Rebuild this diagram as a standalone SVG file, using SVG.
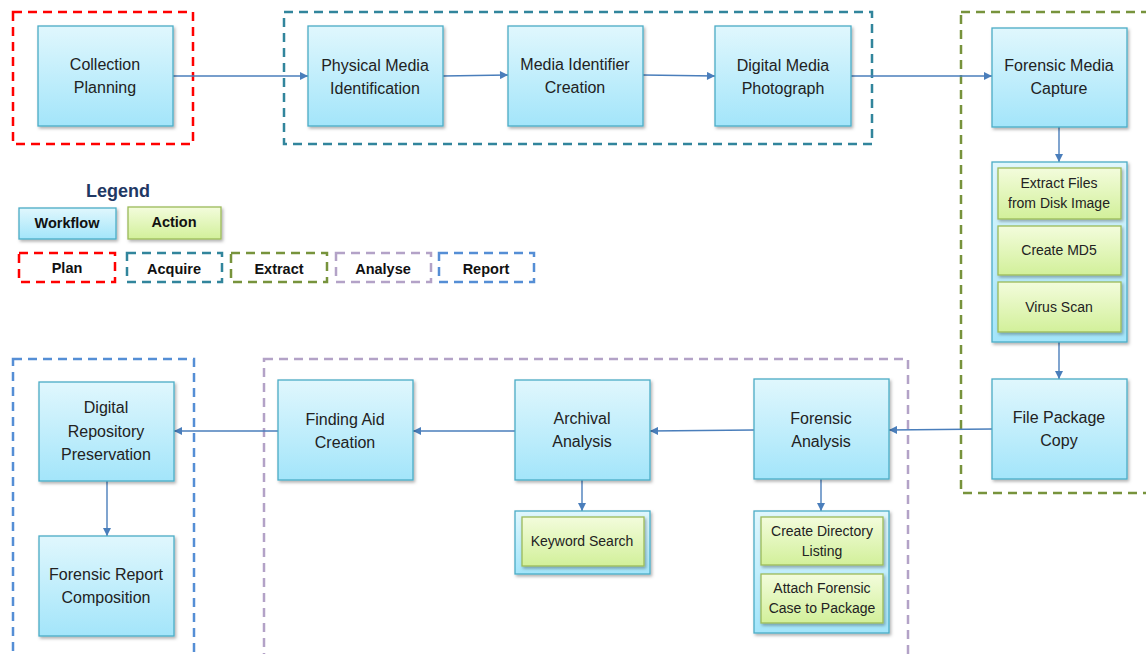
<svg xmlns="http://www.w3.org/2000/svg" width="1146" height="654" viewBox="0 0 1146 654">
<defs>
<linearGradient id="gb" x1="0" y1="0" x2="0" y2="1"><stop offset="0" stop-color="#E0F7FD"/><stop offset="1" stop-color="#A3E5FA"/></linearGradient>
<linearGradient id="gg" x1="0" y1="0" x2="0" y2="1"><stop offset="0" stop-color="#F3FCDC"/><stop offset="1" stop-color="#D2F09A"/></linearGradient>
<filter id="sh" x="-10%" y="-10%" width="130%" height="130%"><feDropShadow dx="1.5" dy="2" stdDeviation="1.5" flood-color="#000" flood-opacity="0.3"/></filter>
<marker id="ah" viewBox="0 0 10 10" refX="10" refY="5" markerWidth="9" markerHeight="8" markerUnits="userSpaceOnUse" orient="auto"><path d="M0,0 L10,5 L0,10 z" fill="#4A7EBB"/></marker>
</defs>
<style>
.wf{fill:url(#gb);stroke:#4BACC6;stroke-width:1.3;filter:url(#sh)}
.ac{fill:url(#gg);stroke:#9BBB59;stroke-width:1.3;filter:url(#sh)}
.t{font-family:"Liberation Sans",Arial,sans-serif;font-size:16px;fill:#222;text-anchor:middle}
.ts{font-family:"Liberation Sans",Arial,sans-serif;font-size:14px;fill:#222;text-anchor:middle}
.tb{font-family:"Liberation Sans",Arial,sans-serif;font-size:14.5px;font-weight:bold;fill:#111;text-anchor:middle}
.grp{fill:none;stroke-width:2.5;stroke-dasharray:9 6}
.c{fill:none;stroke:#4A7EBB;stroke-width:1.4;marker-end:url(#ah)}
</style>
<rect width="1146" height="654" fill="#fff"/>
<g id="groups">
<rect class="grp" x="13" y="12" width="180" height="132" stroke="#FF0000"/>
<rect class="grp" x="284" y="12" width="588" height="132" stroke="#31859C"/>
<rect class="grp" x="961" y="12" width="200" height="481" stroke="#77933C"/>
<rect class="grp" x="264" y="359" width="644" height="310" stroke="#B3A2C7"/>
<rect class="grp" x="13" y="359" width="181" height="310" stroke="#558ED5"/>
</g>
<g id="legend">
<text x="118" y="197" font-family="'Liberation Sans',Arial,sans-serif" font-size="18" font-weight="bold" fill="#1F3864" text-anchor="middle">Legend</text>
<rect class="wf" x="19" y="208" width="97" height="31"/>
<text class="tb" x="67" y="228">Workflow</text>
<rect class="ac" x="128" y="207" width="93" height="32"/>
<text class="tb" x="174" y="227">Action</text>
<rect class="grp" x="19" y="253" width="96" height="29" stroke="#FF0000"/>
<text class="tb" x="67" y="273">Plan</text>
<rect class="grp" x="127" y="253" width="95" height="29" stroke="#31859C"/>
<text class="tb" x="174" y="274">Acquire</text>
<rect class="grp" x="231" y="253" width="96" height="29" stroke="#77933C"/>
<text class="tb" x="279" y="274">Extract</text>
<rect class="grp" x="336" y="253" width="95" height="29" stroke="#B3A2C7"/>
<text class="tb" x="383" y="274">Analyse</text>
<rect class="grp" x="439" y="253" width="95" height="29" stroke="#558ED5"/>
<text class="tb" x="486" y="274">Report</text>
</g>
<g id="connectors">
<line class="c" x1="173" y1="76" x2="308" y2="76"/>
<line class="c" x1="443" y1="76" x2="508" y2="75"/>
<line class="c" x1="643" y1="75" x2="715" y2="76"/>
<line class="c" x1="851" y1="76" x2="992" y2="76"/>
<line class="c" x1="1059" y1="127" x2="1059" y2="162"/>
<line class="c" x1="1059" y1="342" x2="1059" y2="379"/>
<line class="c" x1="992" y1="429" x2="889" y2="430"/>
<line class="c" x1="754" y1="430" x2="650" y2="431"/>
<line class="c" x1="515" y1="431" x2="413" y2="431"/>
<line class="c" x1="278" y1="431" x2="174" y2="431"/>
<line class="c" x1="107" y1="481" x2="107" y2="536"/>
<line class="c" x1="582" y1="480" x2="582" y2="511"/>
<line class="c" x1="821" y1="479" x2="821" y2="511"/>
</g>
<g id="collection-planning"><rect class="wf" x="38" y="26" width="135" height="100"/><text class="t" x="105" y="70">Collection</text><text class="t" x="105" y="93">Planning</text></g>
<g id="physical-media-identification"><rect class="wf" x="308" y="26" width="135" height="100"/><text class="t" x="375" y="71">Physical Media</text><text class="t" x="375" y="94">Identification</text></g>
<g id="media-identifier-creation"><rect class="wf" x="508" y="26" width="135" height="100"/><text class="t" x="575" y="70">Media Identifier</text><text class="t" x="575" y="93">Creation</text></g>
<g id="digital-media-photograph"><rect class="wf" x="715" y="26" width="136" height="100"/><text class="t" x="783" y="71">Digital Media</text><text class="t" x="783" y="94">Photograph</text></g>
<g id="forensic-media-capture"><rect class="wf" x="992" y="28" width="135" height="99"/><text class="t" x="1059" y="71">Forensic Media</text><text class="t" x="1059" y="94">Capture</text></g>
<g id="extract-actions"><rect class="wf" x="992" y="162" width="135" height="180"/>
<rect class="ac" x="998" y="168" width="123" height="51"/><text class="ts" x="1059" y="188">Extract Files</text><text class="ts" x="1059" y="208">from Disk Image</text>
<rect class="ac" x="998" y="226" width="123" height="49"/><text class="ts" x="1059" y="255">Create MD5</text>
<rect class="ac" x="998" y="282" width="123" height="50"/><text class="ts" x="1059" y="312">Virus Scan</text></g>
<g id="file-package-copy"><rect class="wf" x="992" y="379" width="135" height="100"/><text class="t" x="1059" y="423">File Package</text><text class="t" x="1059" y="446">Copy</text></g>
<g id="forensic-analysis"><rect class="wf" x="754" y="379" width="135" height="100"/><text class="t" x="821" y="424">Forensic</text><text class="t" x="821" y="447">Analysis</text></g>
<g id="forensic-actions"><rect class="wf" x="754" y="511" width="135" height="122"/>
<rect class="ac" x="761" y="517" width="122" height="48"/><text class="ts" x="822" y="536">Create Directory</text><text class="ts" x="822" y="556">Listing</text>
<rect class="ac" x="761" y="574" width="122" height="49"/><text class="ts" x="822" y="593">Attach Forensic</text><text class="ts" x="822" y="613">Case to Package</text></g>
<g id="archival-analysis"><rect class="wf" x="515" y="380" width="135" height="100"/><text class="t" x="582" y="424">Archival</text><text class="t" x="582" y="447">Analysis</text></g>
<g id="archival-actions"><rect class="wf" x="515" y="511" width="135" height="63"/>
<rect class="ac" x="522" y="517" width="122" height="49"/><text class="ts" x="582" y="546">Keyword Search</text></g>
<g id="finding-aid-creation"><rect class="wf" x="278" y="380" width="135" height="100"/><text class="t" x="345" y="425">Finding Aid</text><text class="t" x="345" y="448">Creation</text></g>
<g id="digital-repository-preservation"><rect class="wf" x="39" y="382" width="135" height="99"/><text class="t" x="106" y="413">Digital</text><text class="t" x="106" y="437">Repository</text><text class="t" x="106" y="460">Preservation</text></g>
<g id="forensic-report-composition"><rect class="wf" x="39" y="536" width="135" height="100"/><text class="t" x="106" y="580">Forensic Report</text><text class="t" x="106" y="603">Composition</text></g>
</svg>
